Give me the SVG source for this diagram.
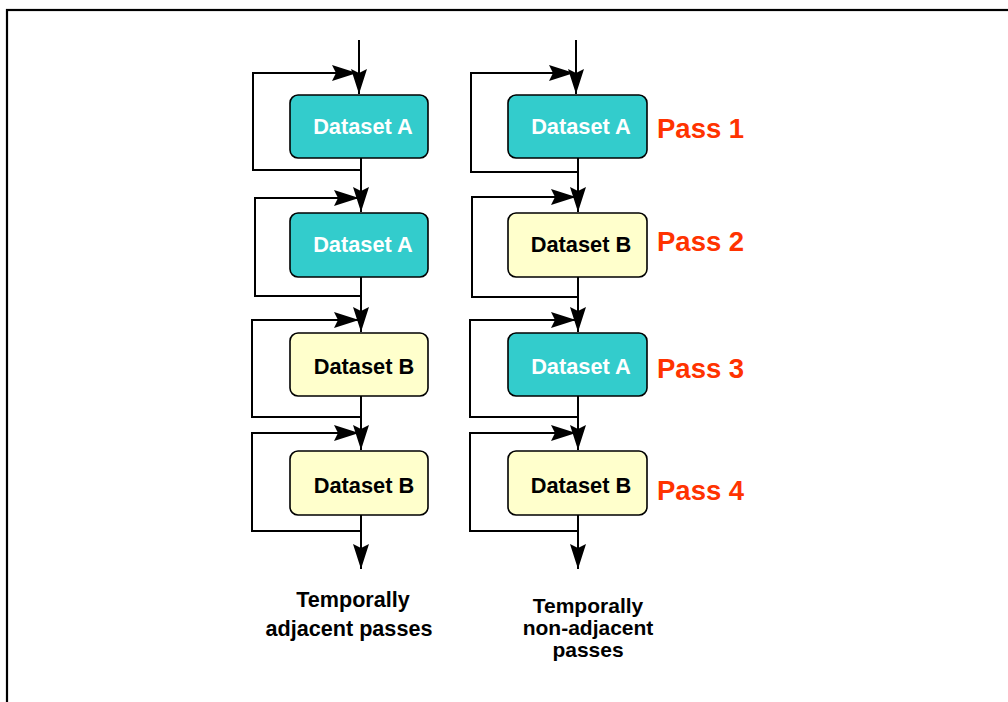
<svg xmlns="http://www.w3.org/2000/svg" width="1008" height="702" viewBox="0 0 1008 702">
<style>
.frame{fill:none;stroke:#000;stroke-width:2.2}
.box{stroke:#000;stroke-width:1.6}
.a{fill:#33CCCC}
.b{fill:#FFFFCC}
.lbl{font-family:"Liberation Sans",Arial,sans-serif;font-weight:bold;font-size:21.8px;text-anchor:middle}
.wt{fill:#fff}
.bk{fill:#000}
.pass{font-family:"Liberation Sans",Arial,sans-serif;font-weight:bold;font-size:27.5px;fill:#FF3300}
.cap{font-family:"Liberation Sans",Arial,sans-serif;font-weight:bold;font-size:21.6px;text-anchor:middle;fill:#000}
.capr{font-family:"Liberation Sans",Arial,sans-serif;font-weight:bold;font-size:21px;text-anchor:middle;fill:#000}
.ar{fill:none;stroke:#000;stroke-width:2;marker-end:url(#ah)}
</style>
<defs>
<marker id="ah" viewBox="-28 -9 30 18" refX="0" refY="0" markerWidth="30" markerHeight="18" markerUnits="userSpaceOnUse" orient="auto">
<path d="M0,0 L-25,-8 L-21,0 L-25,8 Z" fill="#000"/>
</marker>
</defs>
<rect class="frame" x="7" y="10" width="1012" height="702"/>
<g id="connectors">
<path class="ar" d="M359,40 V94"/>
<path class="ar" d="M361,170 H253 V73 H357"/>
<path class="ar" d="M361,158 V212"/>
<path class="ar" d="M361,296 H255 V198 H359"/>
<path class="ar" d="M361,277 V332"/>
<path class="ar" d="M361,417 H252 V320 H359"/>
<path class="ar" d="M361,396 V450"/>
<path class="ar" d="M361,531 H252 V433 H359"/>
<path class="ar" d="M361,515 V569"/>
<path class="ar" d="M576,40 V94"/>
<path class="ar" d="M578,172 H471 V73 H574"/>
<path class="ar" d="M578,158 V212"/>
<path class="ar" d="M578,297 H472 V197 H576"/>
<path class="ar" d="M578,277 V332"/>
<path class="ar" d="M578,417 H470 V320 H576"/>
<path class="ar" d="M578,396 V450"/>
<path class="ar" d="M578,531 H470 V433 H576"/>
<path class="ar" d="M578,515 V569"/>
</g>
<g id="L1"><rect class="box a" x="290" y="95" width="138" height="63" rx="8"/><text class="lbl wt" x="363" y="134">Dataset A</text></g>
<g id="L2"><rect class="box a" x="290" y="213" width="138" height="64" rx="8"/><text class="lbl wt" x="363" y="252">Dataset A</text></g>
<g id="L3"><rect class="box b" x="290" y="333" width="138" height="63" rx="8"/><text class="lbl bk" x="364" y="374">Dataset B</text></g>
<g id="L4"><rect class="box b" x="290" y="451" width="138" height="64" rx="8"/><text class="lbl bk" x="364" y="493">Dataset B</text></g>
<g id="R1"><rect class="box a" x="508" y="95" width="139" height="63" rx="8"/><text class="lbl wt" x="581" y="134">Dataset A</text></g>
<g id="R2"><rect class="box b" x="508" y="213" width="139" height="64" rx="8"/><text class="lbl bk" x="581" y="252">Dataset B</text></g>
<g id="R3"><rect class="box a" x="508" y="333" width="139" height="63" rx="8"/><text class="lbl wt" x="581" y="374">Dataset A</text></g>
<g id="R4"><rect class="box b" x="508" y="451" width="139" height="64" rx="8"/><text class="lbl bk" x="581" y="493">Dataset B</text></g>
<g id="passes">
<text class="pass" x="657" y="138">Pass 1</text>
<text class="pass" x="657" y="251">Pass 2</text>
<text class="pass" x="657" y="378">Pass 3</text>
<text class="pass" x="657" y="500">Pass 4</text>
</g>
<g id="caption-left">
<text class="cap" x="353" y="607">Temporally</text>
<text class="cap" x="349" y="636">adjacent passes</text>
</g>
<g id="caption-right">
<text class="capr" x="588" y="613">Temporally</text>
<text class="capr" x="588" y="635">non-adjacent</text>
<text class="capr" x="588" y="657">passes</text>
</g>
</svg>
